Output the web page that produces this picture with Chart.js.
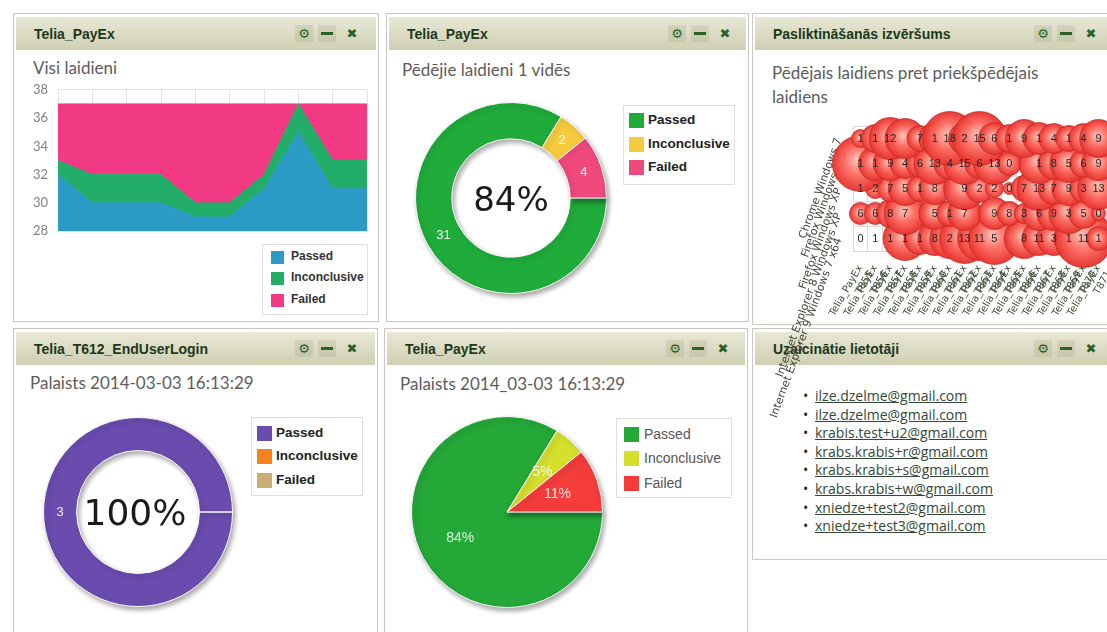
<!DOCTYPE html>
<html>
<head>
<meta charset="utf-8">
<title>Telia dashboard</title>
<script src="https://cdn.jsdelivr.net/npm/chart.js@4.4.1/dist/chart.umd.min.js"></script>
<style>
  body { margin:0; width:1107px; height:632px; overflow:hidden; background:#fff; position:relative; font-family:"Liberation Sans", Arial, sans-serif; }
  .panel { position:absolute; border:1px solid #c9c9c1; background:#fff; box-sizing:border-box; }
  .head { position:absolute; left:2px; right:2px; top:3px; height:33px; background:linear-gradient(#e8e8d6, #cfcfb2); }
  .head b { position:absolute; left:18px; top:9px; font:bold 14px "Liberation Sans"; color:#1d381d; white-space:nowrap; }
  .ico { position:absolute; top:8px; width:18px; height:17px; text-align:center; font:bold 13px "DejaVu Sans"; line-height:17px; color:#2a622a; }
  .ico.bg { background:rgba(120,120,80,0.14); }
  .ico.minus:after { content:""; position:absolute; left:3px; top:7px; width:12px; height:3px; background:#2a622a; }
  .sub { position:absolute; font:17px Lato; color:#5c5c5c; line-height:24px; white-space:nowrap; }
  .legend { position:absolute; border:1px solid #dedede; background:#fff; }
  .legend i { position:absolute; }
  .legend span { position:absolute; white-space:nowrap; line-height:16px; }
  canvas { position:absolute; }
  ul.mails { position:absolute; left:815px; top:387px; margin:0; padding:0; list-style:none; font:14px "Open Sans"; line-height:18.6px; }
  ul.mails li { position:relative; color:#33473a; text-decoration:underline; }
  ul.mails li:before { content:"\2022"; position:absolute; left:-12px; text-decoration:none; color:#222; }
</style>
</head>
<body>

<div class="panel" style="left:13px;top:13px;width:366px;height:309px"><div class="head"><b>Telia_PayEx</b></div></div>
<div class="panel" style="left:386px;top:13px;width:363px;height:309px"><div class="head"><b>Telia_PayEx</b></div></div>
<div class="panel" style="left:752px;top:13px;width:370px;height:312px"><div class="head"><b>Pasliktināšanās izvēršums</b></div></div>
<div class="panel" style="left:13px;top:328px;width:365px;height:320px"><div class="head"><b>Telia_T612_EndUserLogin</b></div></div>
<div class="panel" style="left:384px;top:328px;width:364px;height:320px"><div class="head"><b>Telia_PayEx</b></div></div>
<div class="panel" style="left:752px;top:328px;width:370px;height:232px"><div class="head"><b>Uzaicinātie lietotāji</b></div></div>

<div class="sub" style="left:33px;top:56px">Visi laidieni</div>
<div class="sub" style="left:402px;top:58px">Pēdējie laidieni 1 vidēs</div>
<div class="sub" style="left:772px;top:61px">Pēdējais laidiens pret priekšpēdējais<br>laidiens</div>
<div class="sub" style="left:30px;top:371px">Palaists 2014-03-03 16:13:29</div>
<div class="sub" style="left:400px;top:372px">Palaists 2014_03-03 16:13:29</div>

<canvas id="c-history" width="350" height="177" style="left:22px;top:72px"></canvas>
<canvas id="c-last" width="212" height="212" style="left:405px;top:92px"></canvas>
<canvas id="c-login" width="212" height="212" style="left:32px;top:406px"></canvas>
<canvas id="c-pie" width="212" height="212" style="left:401px;top:406px"></canvas>

<ul class="mails" id="mails"></ul>

<canvas id="c-bubble" width="400" height="345" style="left:752px;top:96px;z-index:5"></canvas>

<script>
// --- data ---
const statusLabels = ["Passed", "Inconclusive", "Failed"];

// Visi laidieni (stacked area, 10 runs)
const runNumbers = ["1", "2", "3", "4", "5", "6", "7", "8", "9", "10"];
const passedRuns = [32, 30, 30, 30, 29, 29, 31, 35, 31, 31];
const inconclusiveRuns = [1, 2, 2, 2, 1, 1, 1, 2, 2, 2];
const failedRuns = [4, 5, 5, 5, 7, 7, 5, 0, 4, 4];

// last run per widget
const lastRun = [31, 2, 4];
const loginRun = [3, 0, 0];
const pieRun = [31, 2, 4];

// Pasliktinasanas izversums (bubble grid)
const envNames = [
  "Chrome Windows 7",
  "Firefox Windows 7",
  "Firefox Windows XP",
  "Internet Explorer 8 Windows XP",
  "Internet Explorer 9 Windows 7 x64"
];
const testNames = ["Telia_PayEx", "Telia_PayEx", "Telia_PayEx", "Telia_PayEx", "Telia_PayEx", "Telia_PayEx",
  "Telia_PayEx", "Telia_PayEx", "Telia_PayEx", "Telia_PayEx", "Telia_PayEx", "Telia_PayEx",
  "Telia_PayEx", "Telia_PayEx", "Telia_PayEx", "Telia_PayEx", "Telia_PayEx"];
const testIds = ["T855", "T856", "T857", "T858", "T859", "T860", "T861", "T862", "T863",
  "T864", "T865", "T866", "T867", "T868", "T869", "T870", "T871"];

const row1Counts = [1, 1, 12, null, 7, 1, 18, 2, 15, 6, 1, 9, 1, 4, 1, 4, 9];
const row1Sizes = [9, 14, 21, 20, 13, 16, 27, 16, 27, 16, 14, 19, 16, 15, 13, 15, 19];
const row2Counts = [1, 1, 9, 4, 6, 13, 4, 15, 6, 13, 0, null, 1, 8, 5, 6, 9];
const row2Sizes = [28, 17, 17, 15, 14, 21, 16, 21, 15, 21, 12, null, 20, 16, 19, 14, 17];
const row3Counts = [1, 2, 7, 5, 1, 8, null, 9, 2, 2, 0, 7, 13, 7, 9, 3, 13];
const row3Sizes = [0, 10, 13, 17, 13, 16, null, 21, 14, 9, 6, 13, 22, 16, 17, 14, 21];
const row4Counts = [6, 6, 8, 7, null, 5, 1, 7, null, 9, 8, 3, 6, 9, 3, 5, 0];
const row4Sizes = [11, 11, 14, 21, null, 16, 13, 17, null, 16, 12, 10, 17, 17, 20, 15, 7];
const row5Counts = [0, 1, 1, 1, 1, 8, 2, 13, 11, 5, null, 8, 11, 3, 1, 11, 1];
const row5Sizes = [0, 0, 0, 22, 16, 17, 20, 25, 22, 26, null, 20, 17, 17, 15, 29, 12];

const invitedUsers = [
  "ilze.dzelme@gmail.com",
  "ilze.dzelme@gmail.com",
  "krabis.test+u2@gmail.com",
  "krabs.krabis+r@gmail.com",
  "krabs.krabis+s@gmail.com",
  "krabs.krabis+w@gmail.com",
  "xniedze+test2@gmail.com",
  "xniedze+test3@gmail.com"
];

// --- page chrome ---
document.querySelectorAll(".head").forEach((h) => {
  h.insertAdjacentHTML("beforeend",
    '<div class="ico bg" style="left:279px">&#9881;</div>' +
    '<div class="ico bg minus" style="left:302px"></div>' +
    '<div class="ico" style="left:327px">&#10006;</div>');
});

function legend(left, top, w, h, colors, o) {
  let html = "";
  statusLabels.forEach((name, i) => {
    const y = o.rows[i];
    html += '<i style="left:' + o.boxX + 'px;top:' + (y - o.box / 2) + 'px;width:' + o.box + 'px;height:' + o.box + 'px;background:' + colors[i] + '"></i>';
    html += '<span style="left:' + o.textX + 'px;top:' + (y - 8) + 'px;font:' + o.font + ';color:' + o.color + '">' + name + '</span>';
  });
  const d = document.createElement("div");
  d.className = "legend";
  d.style.cssText = "left:" + left + "px;top:" + top + "px;width:" + w + "px;height:" + h + "px";
  d.innerHTML = html;
  document.body.appendChild(d);
}

document.getElementById("mails").innerHTML = invitedUsers.map((m) => "<li>" + m + "</li>").join("");

// --- plugins ---
const softShadow = {
  id: "softShadow",
  beforeDatasetsDraw(chart) {
    const c = chart.ctx;
    c.save();
    c.shadowColor = "rgba(0,0,0,0.35)";
    c.shadowBlur = 5;
    c.shadowOffsetX = 2;
    c.shadowOffsetY = 3;
  },
  afterDatasetsDraw(chart) {
    chart.ctx.restore();
  }
};

const centerText = {
  id: "centerText",
  afterDatasetsDraw(chart, args, opts) {
    const data = chart.data.datasets[0].data;
    const total = data.reduce((a, b) => a + b, 0);
    const arc = chart.getDatasetMeta(0).data[0];
    const c = chart.ctx;
    c.save();
    c.font = opts.font;
    c.fillStyle = "#1b1b1b";
    c.textAlign = "center";
    c.textBaseline = "middle";
    c.fillText(Math.round(data[0] / total * 100) + "%", arc.x + (opts.dx || 0), arc.y + (opts.dy || 0));
    c.restore();
  }
};

const arcLabels = {
  id: "arcLabels",
  afterDatasetsDraw(chart, args, opts) {
    const data = chart.data.datasets[0].data;
    const total = data.reduce((a, b) => a + b, 0);
    const c = chart.ctx;
    c.save();
    c.font = opts.font;
    c.fillStyle = opts.color;
    c.textAlign = "center";
    c.textBaseline = "middle";
    chart.getDatasetMeta(0).data.forEach((arc, i) => {
      const v = data[i];
      if (!v) return;
      const p = arc.getProps(["x", "y", "startAngle", "endAngle", "innerRadius", "outerRadius"]);
      const a = (p.startAngle + p.endAngle) / 2;
      const r = p.innerRadius + (p.outerRadius - p.innerRadius) * opts.pos;
      const txt = opts.percent ? Math.round(v / total * 100) + "%" : String(v);
      c.fillText(txt, p.x + Math.cos(a) * r, p.y + Math.sin(a) * r);
    });
    c.restore();
  }
};

function ringChart(id, values, colors, cutout, pad, extra) {
  return new Chart(document.getElementById(id), {
    type: cutout ? "doughnut" : "pie",
    data: {
      labels: statusLabels,
      datasets: [{ data: values, backgroundColor: colors, borderColor: "#fafafa", borderWidth: 1 }]
    },
    options: {
      responsive: false,
      animation: false,
      rotation: 90,
      cutout: cutout || 0,
      layout: { padding: pad },
      plugins: Object.assign({ legend: { display: false }, tooltip: { enabled: false } }, extra)
    },
    plugins: cutout ? [softShadow, centerText, arcLabels] : [softShadow, arcLabels]
  });
}

// --- Visi laidieni ---
const areaColors = ["#2b9bc6", "#22ad68", "#f23a84"];
new Chart(document.getElementById("c-history"), {
  type: "line",
  data: {
    labels: runNumbers,
    datasets: [
      { label: "Passed", data: passedRuns, backgroundColor: areaColors[0], borderColor: areaColors[0], fill: "start" },
      { label: "Inconclusive", data: inconclusiveRuns, backgroundColor: areaColors[1], borderColor: areaColors[1], fill: "-1" },
      { label: "Failed", data: failedRuns, backgroundColor: areaColors[2], borderColor: areaColors[2], fill: "-1" }
    ]
  },
  options: {
    responsive: false,
    animation: false,
    elements: { point: { radius: 0 }, line: { tension: 0, borderWidth: 1 } },
    layout: { padding: { top: 0, bottom: 0, right: 5 } },
    scales: {
      x: {
        ticks: { display: false },
        grid: { color: "#e3e3e3", drawTicks: false },
        border: { color: "#e3e3e3" }
      },
      y: {
        stacked: true,
        min: 28,
        max: 38,
        ticks: { stepSize: 2, padding: 10, color: "#808080", font: { size: 13, family: "Lato" } },
        grid: { color: "#e3e3e3", drawTicks: false },
        border: { color: "#e3e3e3" },
        afterFit(s) { s.width = 36; }
      }
    },
    plugins: { legend: { display: false }, tooltip: { enabled: false } }
  }
});
legend(262, 244, 104, 69, areaColors,
  { rows: [12, 33, 55], boxX: 8, box: 13, textX: 28, font: "bold 12px Liberation Sans", color: "#333" });

// --- Pedejie laidieni 1 vides ---
const lastColors = ["#20ac3b", "#f6cb3d", "#f04a7d"];
ringChart("c-last", lastRun, lastColors, "62%", 10,
  { centerText: { font: '34px "DejaVu Sans"', dy: 4 }, arcLabels: { pos: 0.5, font: '13px "Liberation Sans"', color: "rgba(255,255,255,0.9)" } });
legend(623, 105, 110, 78, lastColors,
  { rows: [14, 38, 61], boxX: 5, box: 15, textX: 24, font: "bold 13.5px Liberation Sans", color: "#222" });

// --- Telia_T612_EndUserLogin ---
const loginColors = ["#6a4caf", "#f7821f", "#c9ad74"];
ringChart("c-login", loginRun, loginColors, "65%", 11,
  { centerText: { font: '36px "DejaVu Sans"', dy: 4, dx: -3 }, arcLabels: { pos: 0.5, font: '13px "Liberation Sans"', color: "rgba(255,255,255,0.9)" } });
legend(251, 417, 110, 77, loginColors,
  { rows: [15, 38, 62], boxX: 5, box: 15, textX: 24, font: "bold 13.5px Liberation Sans", color: "#222" });

// --- Palaists pie ---
const pieColors = ["#24a838", "#d5e02d", "#f43d3a"];
ringChart("c-pie", pieRun, pieColors, null, 10,
  { arcLabels: { pos: 0.56, percent: true, font: '14px "Liberation Sans"', color: "rgba(255,255,255,0.85)" } });
legend(616, 418, 114, 78, pieColors,
  { rows: [15, 39, 64], boxX: 7, box: 15, textX: 27, font: "14px Liberation Sans", color: "#555" });

// --- Pasliktinasanas izversums ---
const gridCounts = [row1Counts, row2Counts, row3Counts, row4Counts, row5Counts];
const gridSizes = [row1Sizes, row2Sizes, row3Sizes, row4Sizes, row5Sizes];

function bubbleFill(c) {
  const flat = "#f0463f";
  if (!c.raw || !c.parsed) return flat;
  const ch = c.chart;
  const x = ch.scales.x.getPixelForValue(c.parsed.x);
  const y = ch.scales.y.getPixelForValue(c.parsed.y);
  if (!isFinite(x) || !isFinite(y)) return flat;
  const r = Math.max(c.raw.r, 1);
  const g = ch.ctx.createRadialGradient(x - r * 0.1, y - r * 0.15, 0, x, y, r);
  g.addColorStop(0, "rgba(255,200,190,0.97)");
  g.addColorStop(0.5, "rgba(251,110,100,0.97)");
  g.addColorStop(1, "rgba(232,50,45,0.97)");
  return g;
}

const bubbleNumbers = {
  id: "bubbleNumbers",
  afterDatasetsDraw(chart) {
    const c = chart.ctx;
    c.save();
    c.font = '11px "Liberation Sans"';
    c.fillStyle = "#262626";
    c.textAlign = "center";
    c.textBaseline = "middle";
    chart.data.datasets.forEach((ds, di) => {
      chart.getDatasetMeta(di).data.forEach((pt, i) => {
        const v = ds.data[i].v;
        if (v == null) return;
        c.fillText(String(v), pt.x, pt.y);
      });
    });
    c.restore();
  }
};

const bubbleSets = envNames.map((env, ri) => ({
  label: env,
  clip: false,
  data: gridSizes[ri]
    .map((r, ci) => (r == null && gridCounts[ri][ci] == null ? null : { x: testIds[ci], y: env, r: r || 0, v: gridCounts[ri][ci] }))
    .filter((p) => p),
  backgroundColor: bubbleFill,
  borderColor: "rgba(190,40,36,0.7)",
  borderWidth: 1
}));

new Chart(document.getElementById("c-bubble"), {
  type: "bubble",
  data: { labels: testIds, datasets: bubbleSets },
  options: {
    responsive: false,
    animation: false,
    layout: { padding: { top: 22, right: 46, left: 0, bottom: 0 } },
    scales: {
      x: {
        type: "category",
        offset: true,
        grid: { color: "#d9d9d9", offset: true, drawTicks: false },
        border: { color: "#d9d9d9" },
        ticks: {
          autoSkip: false, minRotation: 60, maxRotation: 60, padding: 12,
          color: "#3e4c37", font: { size: 10, family: "DejaVu Sans" },
          callback: (v, i) => [testNames[i], testIds[i]]
        },
        afterFit(s) { s.height = 190; }
      },
      y: {
        type: "category",
        labels: envNames,
        offset: true,
        grid: { color: "#d9d9d9", offset: true, drawTicks: false },
        border: { color: "#d9d9d9" },
        ticks: {
          autoSkip: false, minRotation: 70, maxRotation: 70, padding: 14,
          color: "#3f4739", font: { size: 11, family: "DejaVu Sans" }
        },
        afterFit(s) { s.width = 101; s.paddingTop = 0; s.paddingBottom = 0; }
      }
    },
    plugins: { legend: { display: false }, tooltip: { enabled: false } }
  },
  plugins: [bubbleNumbers]
});
</script>
</body>
</html>
